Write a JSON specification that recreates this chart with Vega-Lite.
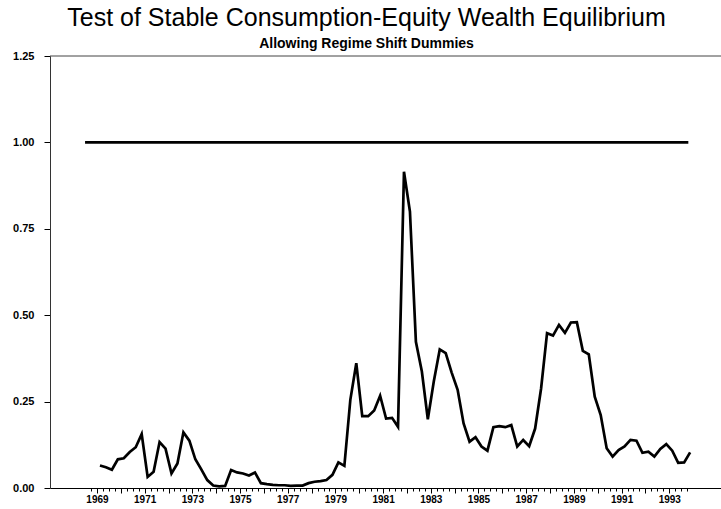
{
  "$schema": "https://vega.github.io/schema/vega-lite/v6.json",
  "width": 671,
  "height": 432,
  "autosize": "none",
  "padding": {"left": 50, "top": 56, "right": 0, "bottom": 21},
  "background": "white",
  "title": {
    "text": "Test of Stable Consumption-Equity Wealth Equilibrium",
    "subtitle": "Allowing Regime Shift Dummies",
    "font": "Liberation Sans",
    "fontSize": 25,
    "fontWeight": "normal",
    "color": "black",
    "subtitleFont": "Liberation Sans",
    "subtitleFontSize": 14,
    "subtitleFontWeight": "bold",
    "subtitleColor": "black",
    "subtitlePadding": 6,
    "anchor": "middle",
    "frame": "group",
    "dx": -19,
    "offset": -1
  },
  "config": {"view": {"stroke": null}},
  "layer": [
    {
      "data": {"values": [{"v": 1.25}]},
      "mark": {"type": "rule", "color": "#444444", "strokeWidth": 1},
      "encoding": {"y": {"field": "v", "type": "quantitative"}}
    },
    {
      "data": {
        "values": [
          {"s": "ref", "t": 1968.5, "v": 1.0},
          {"s": "ref", "t": 1993.8, "v": 1.0},
          {"s": "stat", "t": 1969.125, "v": 0.065},
          {"s": "stat", "t": 1969.375, "v": 0.060},
          {"s": "stat", "t": 1969.625, "v": 0.053},
          {"s": "stat", "t": 1969.875, "v": 0.083},
          {"s": "stat", "t": 1970.125, "v": 0.086},
          {"s": "stat", "t": 1970.375, "v": 0.104},
          {"s": "stat", "t": 1970.625, "v": 0.118},
          {"s": "stat", "t": 1970.875, "v": 0.156},
          {"s": "stat", "t": 1971.125, "v": 0.032},
          {"s": "stat", "t": 1971.375, "v": 0.047},
          {"s": "stat", "t": 1971.625, "v": 0.133},
          {"s": "stat", "t": 1971.875, "v": 0.114},
          {"s": "stat", "t": 1972.125, "v": 0.042},
          {"s": "stat", "t": 1972.375, "v": 0.071},
          {"s": "stat", "t": 1972.625, "v": 0.161},
          {"s": "stat", "t": 1972.875, "v": 0.137},
          {"s": "stat", "t": 1973.125, "v": 0.083},
          {"s": "stat", "t": 1973.375, "v": 0.054},
          {"s": "stat", "t": 1973.625, "v": 0.023},
          {"s": "stat", "t": 1973.875, "v": 0.007},
          {"s": "stat", "t": 1974.125, "v": 0.005},
          {"s": "stat", "t": 1974.375, "v": 0.006},
          {"s": "stat", "t": 1974.625, "v": 0.052},
          {"s": "stat", "t": 1974.875, "v": 0.045},
          {"s": "stat", "t": 1975.125, "v": 0.042},
          {"s": "stat", "t": 1975.375, "v": 0.036},
          {"s": "stat", "t": 1975.625, "v": 0.045},
          {"s": "stat", "t": 1975.875, "v": 0.014},
          {"s": "stat", "t": 1976.125, "v": 0.011},
          {"s": "stat", "t": 1976.375, "v": 0.009},
          {"s": "stat", "t": 1976.625, "v": 0.008},
          {"s": "stat", "t": 1976.875, "v": 0.008},
          {"s": "stat", "t": 1977.125, "v": 0.006},
          {"s": "stat", "t": 1977.375, "v": 0.007},
          {"s": "stat", "t": 1977.625, "v": 0.007},
          {"s": "stat", "t": 1977.875, "v": 0.014},
          {"s": "stat", "t": 1978.125, "v": 0.018},
          {"s": "stat", "t": 1978.375, "v": 0.020},
          {"s": "stat", "t": 1978.625, "v": 0.023},
          {"s": "stat", "t": 1978.875, "v": 0.038},
          {"s": "stat", "t": 1979.125, "v": 0.074},
          {"s": "stat", "t": 1979.375, "v": 0.064},
          {"s": "stat", "t": 1979.625, "v": 0.255},
          {"s": "stat", "t": 1979.875, "v": 0.361},
          {"s": "stat", "t": 1980.125, "v": 0.208},
          {"s": "stat", "t": 1980.375, "v": 0.208},
          {"s": "stat", "t": 1980.625, "v": 0.224},
          {"s": "stat", "t": 1980.875, "v": 0.267},
          {"s": "stat", "t": 1981.125, "v": 0.201},
          {"s": "stat", "t": 1981.375, "v": 0.203},
          {"s": "stat", "t": 1981.625, "v": 0.177},
          {"s": "stat", "t": 1981.875, "v": 0.915},
          {"s": "stat", "t": 1982.125, "v": 0.800},
          {"s": "stat", "t": 1982.375, "v": 0.423},
          {"s": "stat", "t": 1982.625, "v": 0.337},
          {"s": "stat", "t": 1982.875, "v": 0.199},
          {"s": "stat", "t": 1983.125, "v": 0.308},
          {"s": "stat", "t": 1983.375, "v": 0.401},
          {"s": "stat", "t": 1983.625, "v": 0.390},
          {"s": "stat", "t": 1983.875, "v": 0.334},
          {"s": "stat", "t": 1984.125, "v": 0.284},
          {"s": "stat", "t": 1984.375, "v": 0.187},
          {"s": "stat", "t": 1984.625, "v": 0.134},
          {"s": "stat", "t": 1984.875, "v": 0.147},
          {"s": "stat", "t": 1985.125, "v": 0.120},
          {"s": "stat", "t": 1985.375, "v": 0.108},
          {"s": "stat", "t": 1985.625, "v": 0.176},
          {"s": "stat", "t": 1985.875, "v": 0.179},
          {"s": "stat", "t": 1986.125, "v": 0.176},
          {"s": "stat", "t": 1986.375, "v": 0.182},
          {"s": "stat", "t": 1986.625, "v": 0.120},
          {"s": "stat", "t": 1986.875, "v": 0.139},
          {"s": "stat", "t": 1987.125, "v": 0.121},
          {"s": "stat", "t": 1987.375, "v": 0.172},
          {"s": "stat", "t": 1987.625, "v": 0.288},
          {"s": "stat", "t": 1987.875, "v": 0.448},
          {"s": "stat", "t": 1988.125, "v": 0.441},
          {"s": "stat", "t": 1988.375, "v": 0.472},
          {"s": "stat", "t": 1988.625, "v": 0.449},
          {"s": "stat", "t": 1988.875, "v": 0.479},
          {"s": "stat", "t": 1989.125, "v": 0.480},
          {"s": "stat", "t": 1989.375, "v": 0.397},
          {"s": "stat", "t": 1989.625, "v": 0.387},
          {"s": "stat", "t": 1989.875, "v": 0.264},
          {"s": "stat", "t": 1990.125, "v": 0.211},
          {"s": "stat", "t": 1990.375, "v": 0.115},
          {"s": "stat", "t": 1990.625, "v": 0.091},
          {"s": "stat", "t": 1990.875, "v": 0.110},
          {"s": "stat", "t": 1991.125, "v": 0.120},
          {"s": "stat", "t": 1991.375, "v": 0.139},
          {"s": "stat", "t": 1991.625, "v": 0.137},
          {"s": "stat", "t": 1991.875, "v": 0.102},
          {"s": "stat", "t": 1992.125, "v": 0.105},
          {"s": "stat", "t": 1992.375, "v": 0.091},
          {"s": "stat", "t": 1992.625, "v": 0.113},
          {"s": "stat", "t": 1992.875, "v": 0.127},
          {"s": "stat", "t": 1993.125, "v": 0.108},
          {"s": "stat", "t": 1993.375, "v": 0.073},
          {"s": "stat", "t": 1993.625, "v": 0.074},
          {"s": "stat", "t": 1993.875, "v": 0.103}
        ]
      },
      "mark": {"type": "line", "color": "black", "strokeWidth": 2.7},
      "encoding": {
        "detail": {"field": "s", "type": "nominal"},
        "x": {
          "field": "t",
          "type": "quantitative",
          "scale": {"domain": [1967.03, 1995.17], "nice": false, "zero": false},
          "axis": {
            "title": null,
            "grid": false,
            "domainColor": "black",
            "domainWidth": 1.2,
            "tickColor": "black",
            "tickWidth": 1,
            "tickSize": {"condition": {"test": "datum.value % 1 === 0", "value": 5}, "value": 3},
            "labelFont": "Liberation Sans",
            "labelFontSize": 10,
            "labelFontWeight": "bold",
            "labelColor": "black",
            "labelPadding": 1,
            "labelOverlap": false,
            "labelFlush": false,
            "labelExpr": "datum.value % 2 === 1 ? format(datum.value, 'd') : ''",
            "values": [1968.75, 1969, 1969.25, 1969.5, 1969.75, 1970, 1970.25, 1970.5, 1970.75, 1971, 1971.25, 1971.5, 1971.75, 1972, 1972.25, 1972.5, 1972.75, 1973, 1973.25, 1973.5, 1973.75, 1974, 1974.25, 1974.5, 1974.75, 1975, 1975.25, 1975.5, 1975.75, 1976, 1976.25, 1976.5, 1976.75, 1977, 1977.25, 1977.5, 1977.75, 1978, 1978.25, 1978.5, 1978.75, 1979, 1979.25, 1979.5, 1979.75, 1980, 1980.25, 1980.5, 1980.75, 1981, 1981.25, 1981.5, 1981.75, 1982, 1982.25, 1982.5, 1982.75, 1983, 1983.25, 1983.5, 1983.75, 1984, 1984.25, 1984.5, 1984.75, 1985, 1985.25, 1985.5, 1985.75, 1986, 1986.25, 1986.5, 1986.75, 1987, 1987.25, 1987.5, 1987.75, 1988, 1988.25, 1988.5, 1988.75, 1989, 1989.25, 1989.5, 1989.75, 1990, 1990.25, 1990.5, 1990.75, 1991, 1991.25, 1991.5, 1991.75, 1992, 1992.25, 1992.5, 1992.75, 1993, 1993.25, 1993.5, 1993.75]
          }
        },
        "y": {
          "field": "v",
          "type": "quantitative",
          "scale": {"domain": [0, 1.25], "nice": false, "zero": true},
          "axis": {
            "title": null,
            "grid": false,
            "values": [0, 0.25, 0.5, 0.75, 1.0, 1.25],
            "format": ".2f",
            "domainColor": "#333333",
            "domainWidth": 1,
            "tickColor": "black",
            "tickSize": 6,
            "labelFont": "Liberation Sans",
            "labelFontSize": 11,
            "labelFontWeight": "bold",
            "labelColor": "black",
            "labelPadding": 10
          }
        }
      }
    }
  ]
}
